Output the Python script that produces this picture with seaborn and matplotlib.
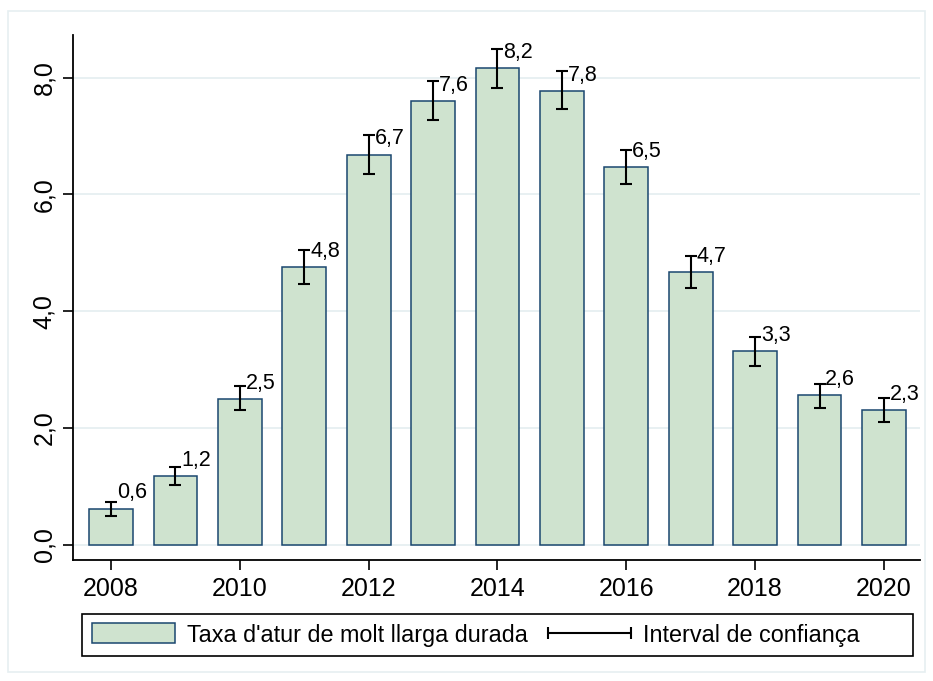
import numpy as np
import pandas as pd
import matplotlib
matplotlib.use("Agg")
import matplotlib.pyplot as plt
import seaborn as sns
from matplotlib.patches import Patch, Rectangle
from matplotlib.lines import Line2D
from matplotlib.legend_handler import HandlerLine2D

years = [2008, 2009, 2010, 2011, 2012, 2013, 2014, 2015, 2016, 2017, 2018, 2019, 2020]
rate = [0.62, 1.18, 2.50, 4.76, 6.68, 7.60, 8.16, 7.77, 6.47, 4.67, 3.32, 2.56, 2.31]
ci_low = [0.50, 1.03, 2.31, 4.47, 6.35, 7.28, 7.83, 7.47, 6.18, 4.40, 3.07, 2.35, 2.11]
ci_high = [0.74, 1.34, 2.72, 5.05, 7.02, 7.95, 8.49, 8.12, 6.76, 4.95, 3.56, 2.76, 2.52]
y_ticks = [0, 2, 4, 6, 8]
x_ticks = [2008, 2010, 2012, 2014, 2016, 2018, 2020]

bar_fill = "#cfe3cf"
bar_edge = "#1a476f"
grid_col = "#e6eff1"

sns.set_theme(style="white")
plt.rcParams["font.family"] = ["Liberation Sans", "DejaVu Sans"]
plt.rcParams["text.color"] = "black"
plt.rcParams["xtick.color"] = "black"
plt.rcParams["ytick.color"] = "black"

df = pd.DataFrame({"year": years, "rate": rate})

fig = plt.figure(figsize=(9.33, 6.81), dpi=100)
ax = fig.add_axes([73 / 933, 1 - 560 / 681, (920 - 73) / 933, (560 - 35) / 681])

for t in y_ticks:
    ax.axhline(t, color=grid_col, lw=1.3, zorder=0)

sns.barplot(data=df, x="year", y="rate", native_scale=True, width=0.68,
            color=bar_fill, saturation=1, edgecolor=bar_edge, linewidth=1.1,
            errorbar=None, ax=ax, zorder=2)

yerr = np.array([np.array(rate) - np.array(ci_low), np.array(ci_high) - np.array(rate)])
ax.errorbar(years, rate, yerr=yerr, fmt="none", ecolor="black", elinewidth=1.5,
            capsize=4.3, capthick=1.5, zorder=3)

for yr, v in zip(years, rate):
    ax.text(yr + 0.09, v + 0.27, f"{v:.1f}".replace(".", ","), ha="left", va="center",
            fontsize=15.5, color="black", zorder=4)

ax.set_xlim(2007.41, 2020.56)
ax.set_ylim(-0.26, 8.73)
ax.set_xticks(x_ticks)
ax.set_xticklabels([str(x) for x in x_ticks], fontsize=18)
ax.set_yticks(y_ticks)
ax.set_yticklabels([f"{t:.1f}".replace(".", ",") for t in y_ticks], fontsize=18,
                   rotation=90, va="center")
ax.set_xlabel("")
ax.set_ylabel("")
ax.tick_params(axis="both", direction="out", length=7, width=1.2, color="black",
               left=True, bottom=True, pad=5)
for s in ["top", "right"]:
    ax.spines[s].set_visible(False)
for s in ["left", "bottom"]:
    ax.spines[s].set_color("black")
    ax.spines[s].set_linewidth(1.3)

handles = [
    Patch(facecolor=bar_fill, edgecolor=bar_edge, linewidth=1.1),
    Line2D([], [], color="black", lw=1.5, marker="|", markersize=9, markeredgewidth=1.5),
]
names = ["Taxa d'atur de molt llarga durada", "Interval de confiança"]
fig.legend(handles, names, loc="center left", bbox_to_anchor=(80 / 933, 1 - 635 / 681),
           ncol=2, frameon=False, fontsize=16.8, borderpad=0, handlelength=3.56,
           handleheight=0.94, handletextpad=0.52, columnspacing=0.86, numpoints=2,
           handler_map={Line2D: HandlerLine2D(marker_pad=0)})

fig.add_artist(Rectangle((82 / 933, 1 - 656 / 681), (913 - 82) / 933, 42 / 681,
                         transform=fig.transFigure, fill=False, edgecolor="black", lw=1.2))
fig.add_artist(Rectangle((8 / 933, 1 - 672 / 681), (925 - 8) / 933, (672 - 11) / 681,
                         transform=fig.transFigure, fill=False, edgecolor=grid_col, lw=1.2))

fig.savefig("out.png", dpi=100, facecolor="white")
